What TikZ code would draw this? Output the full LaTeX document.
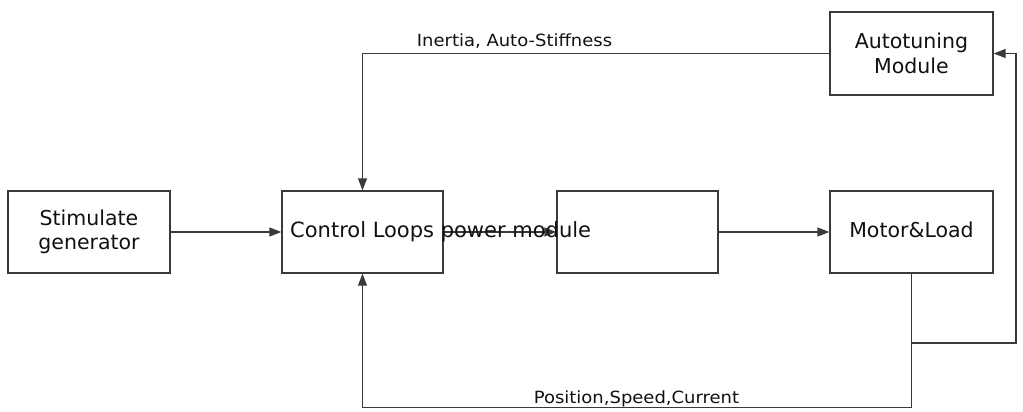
\documentclass[tikz,border=0pt]{standalone}
\usepackage{fontspec}
\setmainfont{DejaVu Sans}
\newfontfamily\labelfont[FakeStretch=1.07]{DejaVu Sans}
\usetikzlibrary{arrows.meta}
\definecolor{linecol}{HTML}{3A3A3A}
\definecolor{txtcol}{HTML}{111111}
\tikzset{
  blockbox/.style={draw=linecol, line width=1.4pt, rectangle, minimum height=82pt,
    inner sep=0pt, align=center, text=txtcol,
    font=\fontsize{20.5pt}{24pt}\selectfont},
  edgelabel/.style={inner sep=0pt, anchor=base, text=txtcol,
    font=\labelfont\fontsize{16.8pt}{20pt}\selectfont},
  conn/.style={draw=linecol, line width=1.4pt},
  arr/.style={conn, -{Triangle[length=12pt,width=9pt]}}
}
\begin{document}
\begin{tikzpicture}[x=1pt, y=-1pt]
\useasboundingbox[fill=white] (0,0) rectangle (1023,412);
% blocks
\node[blockbox, minimum width=162pt] (stim) at (89,232) {Stimulate\\generator};
\node[blockbox, minimum width=161pt] (ctrl) at (362.5,232) {};
\node[blockbox, minimum width=161pt] (pm) at (637.5,232) {};
\node[blockbox, minimum width=163pt, text height=15pt, text depth=5pt] (motor) at (911.5,232) {Motor\&Load};
\node[blockbox, minimum width=163pt, minimum height=83pt] (auto) at (911.5,53.5) {Autotuning\\[1pt]Module};
% forward path
\draw[arr] (stim.east) -- (ctrl.west);
\draw[arr] (ctrl.east) -- (pm.west);
\draw[arr] (pm.east) -- (motor.west);
% overflowing text of the control block
\node[inner sep=0pt, anchor=base west, text=txtcol, font=\fontsize{21pt}{24pt}\selectfont]
  (ctrltext) at (290,237) {Control Loops power module};
% feedback to control loops
\coordinate (fb) at (911.5,407.5);
\draw[arr] (motor.south) -- (fb) -| (ctrl.south);
% branch to autotuning
\coordinate (br) at (911.5,343);
\coordinate (rt) at (1016,343);
\draw[arr] (br) -- (rt) |- (auto.east);
% autotuning back to control loops
\draw[arr] (auto.west) -| (ctrl.north);
% labels
\node[edgelabel] (inlab) at (514.5,47) {Inertia, Auto-Stiffness};
\node[edgelabel] (poslab) at (636.5,403) {Position,Speed,Current};
\end{tikzpicture}
\end{document}
